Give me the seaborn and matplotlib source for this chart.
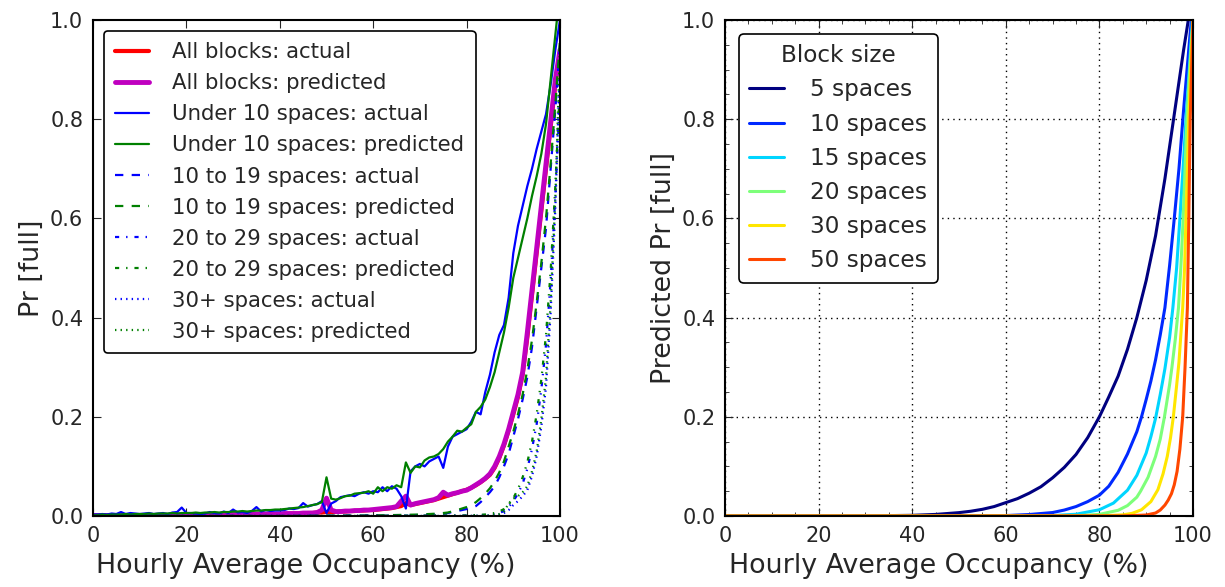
import matplotlib
matplotlib.use("Agg")
import matplotlib.pyplot as plt
import seaborn as sns
from matplotlib import cm
from matplotlib.ticker import MultipleLocator

sns.set_style("ticks", {"xtick.direction": "in", "ytick.direction": "in"})
plt.rcParams.update({
    "font.family": ["DejaVu Sans"],
    "xtick.top": True, "ytick.right": True,
    "xtick.major.size": 6, "ytick.major.size": 6,
    "xtick.minor.size": 3, "ytick.minor.size": 3,
    "xtick.major.pad": 7, "ytick.major.pad": 7,
    "xtick.labelsize": 15, "ytick.labelsize": 15,
    "axes.labelsize": 19.4,
    "axes.edgecolor": "black", "axes.linewidth": 1.2,
    "lines.dashed_pattern": [6, 6],
    "lines.dashdot_pattern": [3, 5, 1, 5],
    "lines.dotted_pattern": [1, 3],
    "lines.scale_dashes": False,
})

# ---------------- Left panel data ----------------
occ = list(range(0, 101))

all_actual = [
    0.000, 0.001, 0.001, 0.001, 0.001, 0.001, 0.001, 0.001, 0.001, 0.001,
    0.001, 0.001, 0.001, 0.001, 0.001, 0.001, 0.002, 0.001, 0.002, 0.002,
    0.002, 0.002, 0.002, 0.002, 0.002, 0.002, 0.002, 0.003, 0.002, 0.003,
    0.003, 0.003, 0.003, 0.003, 0.003, 0.004, 0.003, 0.004, 0.004, 0.004,
    0.004, 0.004, 0.005, 0.005, 0.005, 0.005, 0.006, 0.006, 0.007, 0.007,
    0.008, 0.008, 0.008, 0.009, 0.009, 0.010, 0.010, 0.011, 0.011, 0.012,
    0.012, 0.013, 0.014, 0.015, 0.016, 0.018, 0.020, 0.026, 0.022, 0.024,
    0.026, 0.028, 0.030, 0.032, 0.035, 0.038, 0.041, 0.044, 0.047, 0.050,
    0.053, 0.057, 0.062, 0.068, 0.075, 0.083, 0.097, 0.117, 0.142, 0.172,
    0.205, 0.240, 0.285, 0.360, 0.445, 0.530, 0.615, 0.700, 0.785, 0.870,
    0.935]

all_pred = [
    0.001, 0.001, 0.001, 0.001, 0.001, 0.001, 0.001, 0.001, 0.001, 0.001,
    0.001, 0.001, 0.001, 0.001, 0.001, 0.001, 0.001, 0.002, 0.002, 0.002,
    0.002, 0.002, 0.002, 0.002, 0.002, 0.002, 0.003, 0.003, 0.003, 0.003,
    0.003, 0.003, 0.003, 0.003, 0.004, 0.004, 0.004, 0.004, 0.004, 0.004,
    0.004, 0.005, 0.005, 0.005, 0.005, 0.006, 0.006, 0.006, 0.007, 0.012,
    0.036, 0.012, 0.009, 0.009, 0.010, 0.010, 0.011, 0.011, 0.012, 0.012,
    0.013, 0.014, 0.015, 0.016, 0.017, 0.019, 0.030, 0.040, 0.022, 0.025,
    0.027, 0.029, 0.031, 0.033, 0.037, 0.048, 0.042, 0.045, 0.047, 0.050,
    0.052, 0.057, 0.063, 0.069, 0.076, 0.085, 0.100, 0.120, 0.145, 0.175,
    0.210, 0.245, 0.290, 0.370, 0.455, 0.540, 0.625, 0.710, 0.795, 0.880,
    0.940]

u10_actual = [
    0.003, 0.003, 0.004, 0.003, 0.005, 0.004, 0.008, 0.004, 0.006, 0.005,
    0.004, 0.005, 0.006, 0.004, 0.005, 0.006, 0.004, 0.007, 0.008, 0.017,
    0.006, 0.006, 0.005, 0.004, 0.005, 0.008, 0.006, 0.005, 0.009, 0.006,
    0.013, 0.007, 0.008, 0.006, 0.010, 0.018, 0.009, 0.012, 0.010, 0.011,
    0.011, 0.012, 0.015, 0.014, 0.016, 0.026, 0.019, 0.022, 0.024, 0.030,
    0.006, 0.025, 0.030, 0.038, 0.040, 0.042, 0.040, 0.045, 0.048, 0.045,
    0.050, 0.048, 0.058, 0.050, 0.060, 0.055, 0.040, 0.015, 0.090, 0.100,
    0.105, 0.100, 0.110, 0.115, 0.120, 0.097, 0.140, 0.160, 0.165, 0.170,
    0.175, 0.190, 0.210, 0.205, 0.250, 0.285, 0.330, 0.365, 0.385, 0.440,
    0.530, 0.585, 0.625, 0.665, 0.700, 0.740, 0.775, 0.810, 0.870, 0.940,
    1.000]

u10_pred = [
    0.002, 0.002, 0.003, 0.002, 0.003, 0.003, 0.003, 0.004, 0.003, 0.004,
    0.004, 0.004, 0.005, 0.004, 0.005, 0.005, 0.005, 0.006, 0.005, 0.006,
    0.006, 0.006, 0.007, 0.006, 0.007, 0.007, 0.008, 0.007, 0.008, 0.008,
    0.009, 0.009, 0.010, 0.009, 0.010, 0.011, 0.011, 0.012, 0.012, 0.013,
    0.013, 0.014, 0.015, 0.016, 0.017, 0.018, 0.020, 0.022, 0.024, 0.028,
    0.078, 0.035, 0.033, 0.036, 0.040, 0.041, 0.045, 0.046, 0.047, 0.050,
    0.045, 0.058, 0.050, 0.058, 0.055, 0.062, 0.058, 0.108, 0.087, 0.100,
    0.098, 0.112, 0.118, 0.120, 0.125, 0.135, 0.150, 0.160, 0.172, 0.170,
    0.178, 0.185, 0.210, 0.220, 0.235, 0.260, 0.290, 0.330, 0.370, 0.420,
    0.480, 0.520, 0.560, 0.600, 0.645, 0.685, 0.730, 0.790, 0.880, 0.970,
    1.060]

occ_10_19 = [0, 20, 40, 60, 65, 70, 72, 74, 76, 78, 80, 81, 82, 83, 84, 85,
             86, 87, 88, 89, 90, 91, 92, 93, 94, 95, 96, 97, 98, 99, 100]
s10_19_actual = [0, 0, 0, 0.001, 0.001, 0.002, 0.003, 0.004, 0.006, 0.010,
                 0.014, 0.016, 0.020, 0.028, 0.038, 0.048, 0.060, 0.078, 0.100,
                 0.125, 0.160, 0.195, 0.235, 0.280, 0.340, 0.420, 0.500, 0.580,
                 0.700, 0.820, 0.950]
s10_19_pred = [0, 0, 0, 0.001, 0.002, 0.003, 0.004, 0.005, 0.007, 0.012,
               0.018, 0.022, 0.028, 0.036, 0.045, 0.056, 0.070, 0.088, 0.110,
               0.140, 0.170, 0.205, 0.245, 0.295, 0.355, 0.430, 0.510, 0.600,
               0.710, 0.830, 0.960]

occ_20_29 = [0, 40, 80, 84, 86, 87, 88, 89, 90, 91, 92, 93, 94, 95, 96, 97,
             98, 99, 100]
s20_29_actual = [0, 0, 0.001, 0.002, 0.004, 0.006, 0.010, 0.018, 0.030, 0.045,
                 0.065, 0.095, 0.135, 0.185, 0.255, 0.345, 0.475, 0.645, 0.850]
s20_29_pred = [0, 0, 0.001, 0.003, 0.006, 0.009, 0.014, 0.023, 0.036, 0.054,
               0.078, 0.108, 0.150, 0.205, 0.275, 0.365, 0.495, 0.665, 0.870]

occ_30p = [0, 40, 80, 85, 87, 88, 89, 90, 91, 92, 93, 94, 95, 96, 97, 98, 99,
           100]
s30p_actual = [0, 0, 0, 0.001, 0.003, 0.006, 0.012, 0.022, 0.030, 0.040,
               0.052, 0.080, 0.120, 0.180, 0.260, 0.410, 0.620, 0.920]
s30p_pred = [0, 0, 0, 0.001, 0.004, 0.009, 0.025, 0.035, 0.040, 0.048, 0.060,
             0.090, 0.130, 0.195, 0.280, 0.430, 0.640, 0.950]

# ---------------- Right panel data ----------------
block_labels = ["5 spaces", "10 spaces", "15 spaces", "20 spaces",
                "30 spaces", "50 spaces"]
x5 = [0, 20, 30, 40, 45, 50, 52.5, 55, 57.5, 60, 62.5, 65, 67.5, 70, 72.5, 75,
      77.5, 80, 82, 84, 86, 88, 90, 92, 94, 96, 98, 99, 100]
y5 = [0, 0.0, 0.0002, 0.0014, 0.0032, 0.0068, 0.0096, 0.0135, 0.019, 0.027,
      0.035, 0.046, 0.059, 0.077, 0.098, 0.124, 0.158, 0.200, 0.240, 0.282,
      0.336, 0.400, 0.475, 0.565, 0.680, 0.810, 0.940, 1.0, 1.06]
x10 = [0, 50, 60, 65, 70, 72.5, 75, 77.5, 80, 82, 84, 86, 88, 89, 90, 91, 92,
       93, 94, 95, 96, 97, 98, 99, 100]
y10 = [0, 0.0, 0.0009, 0.003, 0.007, 0.012, 0.019, 0.029, 0.042, 0.060, 0.088,
       0.125, 0.170, 0.200, 0.235, 0.272, 0.315, 0.365, 0.420, 0.505, 0.600,
       0.700, 0.820, 0.930, 1.04]
x15 = [0, 70, 75, 80, 83, 86, 88, 90, 91, 92, 93, 94, 95, 95.7, 96.5, 97.2, 98,
       98.5, 99.2, 100]
y15 = [0, 0.0009, 0.0036, 0.0126, 0.026, 0.052, 0.082, 0.127, 0.160, 0.197,
       0.245, 0.297, 0.360, 0.420, 0.500, 0.600, 0.720, 0.800, 0.900, 1.02]
x20 = [0, 75, 80, 84, 86, 88, 88.8, 90.4, 92, 93, 93.9, 95, 95.5, 96.2, 96.9,
       97.4, 97.9, 98.3, 98.7, 99.3, 100]
y20 = [0, 0.0003, 0.0033, 0.0115, 0.021, 0.038, 0.050, 0.078, 0.120, 0.155,
       0.200, 0.265, 0.300, 0.355, 0.420, 0.500, 0.600, 0.700, 0.800, 0.900,
       1.0]
x30 = [0, 80, 85, 87, 89, 91, 92.5, 93.6, 94.5, 95.2, 95.8, 96.5, 97, 97.8,
       98.2, 98.5, 98.8, 99.1, 99.5, 100]
y30 = [0, 0.0002, 0.0023, 0.0054, 0.0126, 0.029, 0.053, 0.085, 0.120, 0.158,
       0.200, 0.263, 0.310, 0.420, 0.500, 0.600, 0.700, 0.800, 0.900, 1.0]
x50 = [0, 85, 90, 92, 93, 94, 94.7, 95.4, 96, 96.6, 97.2, 97.8, 98.3, 98.8,
       99.1, 99.4, 99.7, 100]
y50 = [0, 0.0001, 0.002, 0.006, 0.012, 0.022, 0.032, 0.045, 0.063, 0.090,
       0.135, 0.200, 0.300, 0.420, 0.600, 0.800, 0.900, 1.0]

fig = plt.figure(figsize=(12.25, 5.87), dpi=100)
axL = fig.add_axes([93 / 1225, 71 / 587, 467 / 1225, 496 / 587])
axR = fig.add_axes([725 / 1225, 71 / 587, 468 / 1225, 496 / 587])

# ---- left
sns.lineplot(x=occ, y=all_actual, ax=axL, color="red", lw=3, label="All blocks: actual")
sns.lineplot(x=occ, y=all_pred, ax=axL, color="#bf00bf", lw=3.5, label="All blocks: predicted")
sns.lineplot(x=occ, y=u10_actual, ax=axL, color="blue", lw=1.6, label="Under 10 spaces: actual")
sns.lineplot(x=occ, y=u10_pred, ax=axL, color="green", lw=1.6, label="Under 10 spaces: predicted")
sns.lineplot(x=occ_10_19, y=s10_19_actual, ax=axL, color="blue", lw=1.6, linestyle="--",
             label="10 to 19 spaces: actual")
sns.lineplot(x=occ_10_19, y=s10_19_pred, ax=axL, color="green", lw=1.6, linestyle="--",
             label="10 to 19 spaces: predicted")
sns.lineplot(x=occ_20_29, y=s20_29_actual, ax=axL, color="blue", lw=1.6, linestyle="-.",
             label="20 to 29 spaces: actual")
sns.lineplot(x=occ_20_29, y=s20_29_pred, ax=axL, color="green", lw=1.6, linestyle="-.",
             label="20 to 29 spaces: predicted")
sns.lineplot(x=occ_30p, y=s30p_actual, ax=axL, color="blue", lw=1.6, linestyle=":",
             label="30+ spaces: actual")
sns.lineplot(x=occ_30p, y=s30p_pred, ax=axL, color="green", lw=1.6, linestyle=":",
             label="30+ spaces: predicted")
axL.set_xlim(0, 100)
axL.set_ylim(0, 1.0)
axL.xaxis.set_major_locator(MultipleLocator(20))
axL.yaxis.set_major_locator(MultipleLocator(0.2))
axL.set_yticks(axL.get_yticks())
axL.set_yticklabels([f"{v:.1f}" for v in axL.get_yticks()])
axL.set_ylim(0, 1.0)
axL.set_xlabel("Hourly Average Occupancy (%)")
axL.set_ylabel("Pr [full]")
axL.xaxis.set_label_coords(0.456, -0.075)
legL = axL.legend(loc="upper left", fontsize=15.3, frameon=True, fancybox=True,
                  edgecolor="black", framealpha=1, handlelength=1.6,
                  handletextpad=1.07, labelspacing=0.52, borderpad=0.55,
                  borderaxespad=0.5)
legL.get_frame().set_linewidth(1.2)

# ---- right
xs = [x5, x10, x15, x20, x30, x50]
ys = [y5, y10, y15, y20, y30, y50]
for i, (xx, yy, lab) in enumerate(zip(xs, ys, block_labels)):
    sns.lineplot(x=xx, y=yy, ax=axR, color=cm.jet(i / 6), lw=2.2, label=lab)
axR.set_xlim(0, 100)
axR.set_ylim(0, 1.0)
axR.xaxis.set_major_locator(MultipleLocator(20))
axR.xaxis.set_minor_locator(MultipleLocator(5))
axR.yaxis.set_major_locator(MultipleLocator(0.2))
axR.yaxis.set_minor_locator(MultipleLocator(0.05))
axR.set_yticks(axR.get_yticks())
axR.set_yticklabels([f"{v:.1f}" for v in axR.get_yticks()])
axR.set_ylim(0, 1.0)
axR.grid(True, which="major", color="black", linestyle=":", lw=1.0)
axR.set_xlabel("Hourly Average Occupancy (%)")
axR.set_ylabel("Predicted Pr [full]")
axR.xaxis.set_label_coords(0.457, -0.075)
legR = axR.legend(loc="upper left", fontsize=16.7, title="Block size", title_fontsize=16.7,
                  frameon=True, fancybox=True, edgecolor="black", framealpha=1,
                  handlelength=1.5, handletextpad=1.12, labelspacing=0.48,
                  borderpad=0.45, borderaxespad=0.6)
legR.get_frame().set_linewidth(1.2)

for ax in (axL, axR):
    for sp in ax.spines.values():
        sp.set_visible(True)
        sp.set_linewidth(1.5)

fig.savefig("out.png", dpi=100)
